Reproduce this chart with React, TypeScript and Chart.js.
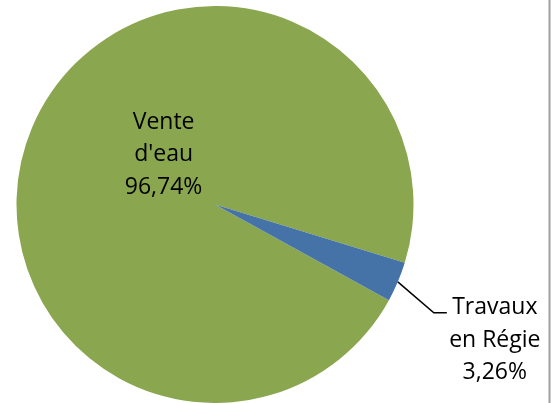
import React, { useEffect, useRef } from "react";
import { Chart, registerables } from "chart.js";

Chart.register(...registerables);

const categories = ["Vente d'eau", "Travaux en Régie"];
const labelLines = [["Vente", "d'eau"], ["Travaux", "en Régie"]];
const values = [96.74, 3.26];
const percentLabels = ["96,74%", "3,26%"];
const colors = ["#8AA64F", "#4572A7"];

const FONT = '23px "Open Sans", "Noto Sans", sans-serif';

const labelPlugin = {
  id: "pieLabels",
  afterDraw(chart: any) {
    const ctx = chart.ctx as CanvasRenderingContext2D;
    const meta = chart.getDatasetMeta(0);
    ctx.save();
    ctx.font = FONT;
    ctx.fillStyle = "#000";
    ctx.textAlign = "center";
    ctx.textBaseline = "middle";
    const lh = 32.5;

    // Inside label (large slice)
    const a0 = meta.data[0].getProps(["x", "y", "outerRadius"], true);
    const ang0 = (224 * Math.PI) / 180;
    const d0 = a0.outerRadius * 0.36;
    const lx0 = a0.x + Math.cos(ang0) * d0;
    const ly0 = a0.y + Math.sin(ang0) * d0;
    const lines0 = [...labelLines[0], percentLabels[0]];
    lines0.forEach((t, i) => ctx.fillText(t, lx0, ly0 + (i - 1) * lh));

    // Outside label with leader (small slice)
    const a1 = meta.data[1].getProps(["x", "y", "startAngle", "endAngle", "outerRadius"], true);
    const mid = (a1.startAngle + a1.endAngle) / 2;
    const px = a1.x + Math.cos(mid) * a1.outerRadius;
    const py = a1.y + Math.sin(mid) * a1.outerRadius;
    const ex = px + 36;
    const ey = py + 31;
    ctx.strokeStyle = "#000";
    ctx.lineWidth = 1.5;
    ctx.beginPath();
    ctx.moveTo(px, py);
    ctx.lineTo(ex, ey);
    ctx.lineTo(ex + 13, ey);
    ctx.stroke();
    const lines1 = [...labelLines[1], percentLabels[1]];
    const tx = ex + 61;
    const ty = ey - 5;
    lines1.forEach((t, i) => ctx.fillText(t, tx, ty + i * lh));

    // right border line
    ctx.strokeStyle = "#A0A0A0";
    ctx.lineWidth = 2;
    ctx.beginPath();
    ctx.moveTo(549.5, 0);
    ctx.lineTo(549.5, chart.height);
    ctx.stroke();
    ctx.restore();
  },
};

export default function App() {
  const ref = useRef<HTMLCanvasElement | null>(null);
  useEffect(() => {
    if (!ref.current) return;
    const chart = new Chart(ref.current, {
      type: "pie",
      data: {
        labels: categories,
        datasets: [
          {
            data: values,
            backgroundColor: colors,
            borderWidth: 0,
          },
        ],
      },
      options: {
        responsive: false,
        animation: false,
        rotation: 118.8,
        layout: { padding: { left: 16, right: 145, top: 6, bottom: 0 } },
        plugins: {
          legend: { display: false },
          tooltip: { enabled: false },
        },
      },
      plugins: [labelPlugin],
    });
    return () => chart.destroy();
  }, []);
  return (
    <div style={{ position: "fixed", left: 0, top: 0, width: 559, height: 403, background: "#fff" }}>
      <canvas ref={ref} width={559} height={403} />
    </div>
  );
}
